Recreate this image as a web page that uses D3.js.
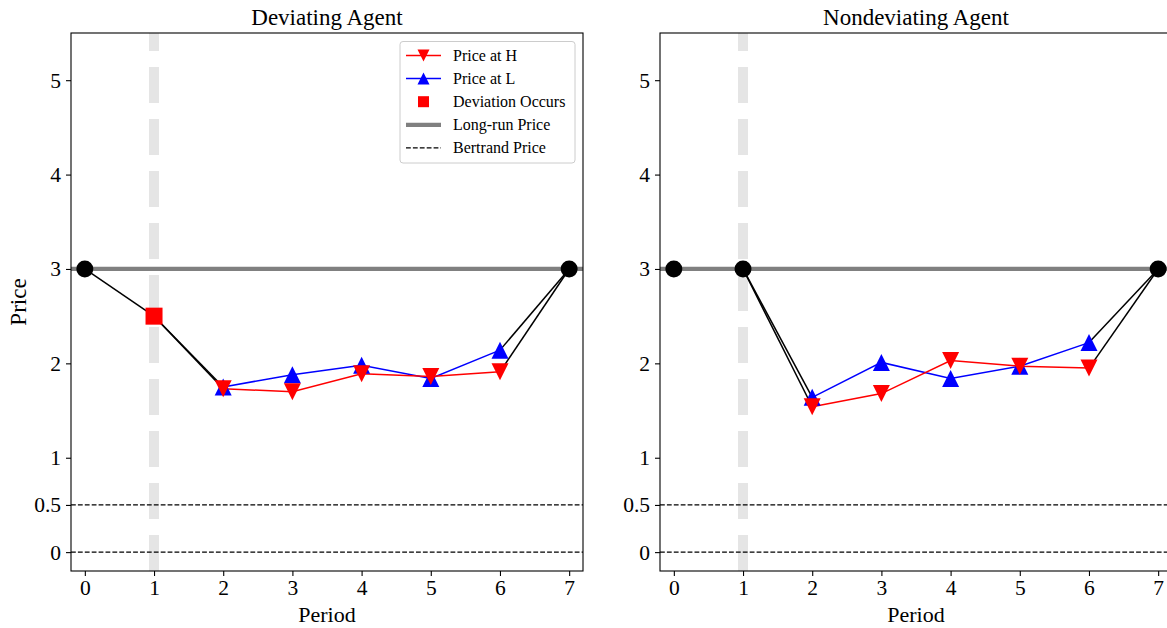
<!DOCTYPE html>
<html>
<head>
<meta charset="utf-8">
<script src="https://cdn.jsdelivr.net/npm/d3@7"></script>
<style>
  html, body { margin: 0; padding: 0; background: #fff; }
  svg { display: block; }
  text { font-family: "Liberation Serif", "Times New Roman", serif; fill: #000; }
</style>
</head>
<body>
<svg id="chart" width="1167" height="628"></svg>
<script>
// Periods on the x axis and the tick values
const periods = [0, 1, 2, 3, 4, 5, 6, 7];
const yTicks = [0, 0.5, 1, 2, 3, 4, 5];
const panelTitles = ["Deviating Agent", "Nondeviating Agent"];

// Reference levels
const longRunPrice = 3;
const bertrandPrices = [0.5, 0];
const deviationPeriod = 1;
const deviationPrice = 2.5;

// Prices in periods 2..6 after the deviation
const responsePeriods = [2, 3, 4, 5, 6];
const devPriceH = [1.73, 1.70, 1.89, 1.86, 1.91];
const devPriceL = [1.75, 1.88, 1.98, 1.84, 2.14];
const nonPriceH = [1.54, 1.68, 2.03, 1.97, 1.95];
const nonPriceL = [1.64, 2.01, 1.84, 1.97, 2.22];

// Legend entries
const legendLabels = ["Price at H", "Price at L", "Deviation Occurs", "Long-run Price", "Bertrand Price"];

const serif = "'Liberation Serif', 'Times New Roman', serif";
const svg = d3.select("#chart");
const plotTop = 33, plotBottom = 571;
const panels = [
  { x0: 71, x1: 583, title: panelTitles[0], H: devPriceH, L: devPriceL, deviating: true },
  { x0: 660, x1: 1172, title: panelTitles[1], H: nonPriceH, L: nonPriceL, deviating: false }
];

const y = d3.scaleLinear().domain([-0.2, 5.5]).range([plotBottom, plotTop]);

function triPath(s, up) {
  const h = s / 2;
  return up ? `M0,${-h}L${h},${h}L${-h},${h}Z` : `M0,${h}L${h},${-h}L${-h},${-h}Z`;
}

panels.forEach((p, i) => {
  const x = d3.scaleLinear().domain([-0.2, 7.2]).range([p.x0, p.x1]);
  const g = svg.append("g");
  const clipId = "clip" + i;
  svg.append("clipPath").attr("id", clipId)
    .append("rect").attr("x", p.x0).attr("y", plotTop).attr("width", p.x1 - p.x0).attr("height", plotBottom - plotTop);
  const plot = g.append("g").attr("clip-path", `url(#${clipId})`);

  // deviation period marker
  plot.append("line")
    .attr("x1", x(deviationPeriod)).attr("x2", x(deviationPeriod))
    .attr("y1", plotBottom).attr("y2", plotTop)
    .attr("stroke", "#e5e5e5").attr("stroke-width", 10)
    .attr("stroke-dasharray", "36,16");

  // Bertrand price levels
  bertrandPrices.forEach(b => {
    plot.append("line")
      .attr("x1", p.x0).attr("x2", p.x1)
      .attr("y1", y(b)).attr("y2", y(b))
      .attr("stroke", "#000").attr("stroke-width", 1.3)
      .attr("stroke-dasharray", "4.8,2.1");
  });

  // long-run price
  plot.append("line")
    .attr("x1", p.x0).attr("x2", p.x1)
    .attr("y1", y(longRunPrice)).attr("y2", y(longRunPrice))
    .attr("stroke", "#808080").attr("stroke-width", 4.2);

  // black connectors into and out of the response path
  const first = responsePeriods[0], last = responsePeriods[responsePeriods.length - 1];
  const startPrice = p.deviating ? deviationPrice : longRunPrice;
  const connectors = [];
  if (p.deviating) connectors.push([[0, longRunPrice], [deviationPeriod, deviationPrice]]);
  connectors.push([[deviationPeriod, startPrice], [first, p.H[0]]]);
  connectors.push([[deviationPeriod, startPrice], [first, p.L[0]]]);
  connectors.push([[last, p.H[p.H.length - 1]], [7, longRunPrice]]);
  connectors.push([[last, p.L[p.L.length - 1]], [7, longRunPrice]]);
  const line = d3.line().x(d => x(d[0])).y(d => y(d[1]));
  connectors.forEach(c => {
    plot.append("path").attr("d", line(c)).attr("fill", "none")
      .attr("stroke", "#000").attr("stroke-width", 1.5);
  });

  // price series
  const series = [
    { vals: p.L, color: "#0000ff", up: true },
    { vals: p.H, color: "#ff0000", up: false }
  ];
  series.forEach(s => {
    const pts = responsePeriods.map((t, k) => [t, s.vals[k]]);
    plot.append("path").attr("d", line(pts)).attr("fill", "none")
      .attr("stroke", s.color).attr("stroke-width", 1.5);
  });
  series.forEach(s => {
    const pts = responsePeriods.map((t, k) => [t, s.vals[k]]);
    g.selectAll(null).data(pts).enter().append("path")
      .attr("transform", d => `translate(${x(d[0])},${y(d[1])})`)
      .attr("d", triPath(17, s.up)).attr("fill", s.color);
  });

  // long-run endpoints
  const circlePts = p.deviating ? [[0, longRunPrice], [7, longRunPrice]]
                                : [[0, longRunPrice], [deviationPeriod, longRunPrice], [7, longRunPrice]];
  g.selectAll(null).data(circlePts).enter().append("circle")
    .attr("cx", d => x(d[0])).attr("cy", d => y(d[1])).attr("r", 8.5).attr("fill", "#000");

  if (p.deviating) {
    g.append("rect")
      .attr("x", x(deviationPeriod) - 8.5).attr("y", y(deviationPrice) - 8.5)
      .attr("width", 17).attr("height", 17).attr("fill", "#ff0000");
  }

  // axes
  const xAxis = g.append("g").attr("transform", `translate(0,${plotBottom})`)
    .call(d3.axisBottom(x).tickValues(periods).tickSize(5).tickPadding(4).tickFormat(d3.format("d")));
  const yAxis = g.append("g").attr("transform", `translate(${p.x0},0)`)
    .call(d3.axisLeft(y).tickValues(yTicks).tickSize(5).tickPadding(5).tickFormat(d => String(d)));
  [xAxis, yAxis].forEach(a => {
    a.attr("font-family", null).attr("font-size", null);
    a.select(".domain").remove();
    a.selectAll(".tick line").attr("stroke", "#000").attr("stroke-width", 1.1);
    a.selectAll(".tick text").attr("fill", "#000")
      .style("font-family", serif).style("font-size", "21.5px");
  });

  // frame
  g.append("rect").attr("x", p.x0).attr("y", plotTop).attr("width", p.x1 - p.x0).attr("height", plotBottom - plotTop)
    .attr("fill", "none").attr("stroke", "#000").attr("stroke-width", 1.1);

  g.append("text").attr("x", (p.x0 + p.x1) / 2).attr("y", 25)
    .attr("text-anchor", "middle").style("font-family", serif).style("font-size", "23px").text(p.title);
  g.append("text").attr("x", (p.x0 + p.x1) / 2).attr("y", 622)
    .attr("text-anchor", "middle").style("font-family", serif).style("font-size", "22px").text("Period");

  if (p.deviating) {
    g.append("text").attr("transform", `translate(26,${(plotTop + plotBottom) / 2}) rotate(-90)`)
      .attr("text-anchor", "middle").style("font-family", serif).style("font-size", "23px").text("Price");

    // legend
    const lg = g.append("g");
    lg.append("rect").attr("x", 400).attr("y", 41.5).attr("width", 175).attr("height", 121.5)
      .attr("rx", 3).attr("fill", "#fff").attr("fill-opacity", 0.8)
      .attr("stroke", "#cccccc").attr("stroke-width", 1);
    const rowY = k => 55.5 + k * 23.1;
    const hx0 = 406, hx1 = 441, hm = (hx0 + hx1) / 2;
    // Price at H
    lg.append("line").attr("x1", hx0).attr("x2", hx1).attr("y1", rowY(0)).attr("y2", rowY(0))
      .attr("stroke", "#ff0000").attr("stroke-width", 1.5);
    lg.append("path").attr("transform", `translate(${hm},${rowY(0)})`).attr("d", triPath(12, false)).attr("fill", "#ff0000");
    // Price at L
    lg.append("line").attr("x1", hx0).attr("x2", hx1).attr("y1", rowY(1)).attr("y2", rowY(1))
      .attr("stroke", "#0000ff").attr("stroke-width", 1.5);
    lg.append("path").attr("transform", `translate(${hm},${rowY(1)})`).attr("d", triPath(12, true)).attr("fill", "#0000ff");
    // Deviation Occurs
    lg.append("rect").attr("x", hm - 5.5).attr("y", rowY(2) - 5.5).attr("width", 11).attr("height", 11).attr("fill", "#ff0000");
    // Long-run Price
    lg.append("line").attr("x1", hx0).attr("x2", hx1).attr("y1", rowY(3)).attr("y2", rowY(3))
      .attr("stroke", "#808080").attr("stroke-width", 4.2);
    // Bertrand Price
    lg.append("line").attr("x1", hx0).attr("x2", hx1).attr("y1", rowY(4)).attr("y2", rowY(4))
      .attr("stroke", "#000").attr("stroke-width", 1.3).attr("stroke-dasharray", "4.8,2.1");
    legendLabels.forEach((t, k) => {
      lg.append("text").attr("x", 453).attr("y", rowY(k) + 5.5)
        .style("font-family", serif).style("font-size", "16px").text(t);
    });
  }
});
</script>
</body>
</html>
